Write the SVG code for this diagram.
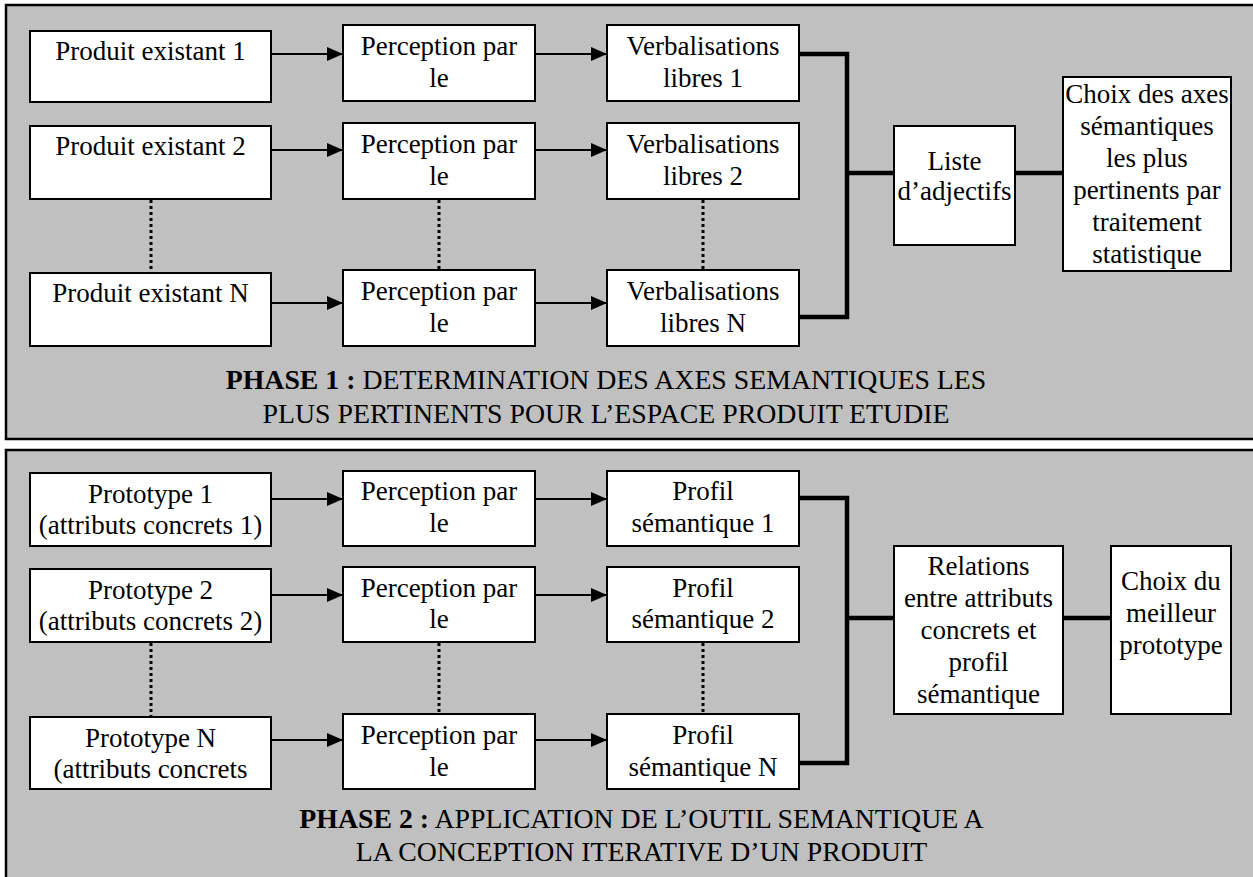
<svg xmlns="http://www.w3.org/2000/svg" width="1253" height="877" viewBox="0 0 1253 877">
  <style>
    .panel { fill: #c0c0c0; stroke: #000; stroke-width: 2.5; }
    .box { fill: #fff; stroke: #000; stroke-width: 2; }
    .t { font-family: "Liberation Serif", "Times New Roman", serif; font-size: 27px; fill: #000; text-anchor: middle; }
    .ph { font-family: "Liberation Serif", "Times New Roman", serif; font-size: 27.8px; fill: #000; text-anchor: middle; }
    .b { font-weight: bold; }
    .arrow { stroke: #000; stroke-width: 2; fill: none; marker-end: url(#head); }
    .join { stroke: #000; stroke-width: 4.5; fill: none; stroke-linejoin: miter; }
    .dots { stroke: #000; stroke-width: 3; stroke-dasharray: 3 3; fill: none; }
  </style>
  <defs>
    <marker id="head" markerWidth="16" markerHeight="14" refX="16" refY="7" orient="auto" markerUnits="userSpaceOnUse">
      <path d="M0,0 L16,7 L0,14 z" fill="#000"/>
    </marker>
  </defs>

  <rect width="1253" height="877" fill="#fff"/>

  <!-- Phase 1 panel -->
  <g id="phase1">
    <rect class="panel" x="6" y="5" width="1260" height="434"/>
    <text class="ph" x="606" y="389"><tspan class="b">PHASE 1 :</tspan> DETERMINATION DES AXES SEMANTIQUES LES</text>
    <text class="ph" x="606" y="423">PLUS PERTINENTS POUR L’ESPACE PRODUIT ETUDIE</text>
  </g>

  <!-- Phase 2 panel -->
  <g id="phase2">
    <rect class="panel" x="6" y="450" width="1260" height="440"/>
    <text class="ph" x="641.5" y="828"><tspan class="b">PHASE 2 :</tspan> APPLICATION DE L’OUTIL SEMANTIQUE A</text>
    <text class="ph" x="641.5" y="861">LA CONCEPTION ITERATIVE D’UN PRODUIT</text>
  </g>

  <!-- Connectors -->
  <g id="connectors">
    <!-- phase 1 arrows -->
    <line class="arrow" x1="271" y1="54" x2="343" y2="54"/>
    <line class="arrow" x1="535" y1="54" x2="607" y2="54"/>
    <line class="arrow" x1="271" y1="150" x2="343" y2="150"/>
    <line class="arrow" x1="535" y1="150" x2="607" y2="150"/>
    <line class="arrow" x1="271" y1="303" x2="343" y2="303"/>
    <line class="arrow" x1="535" y1="303" x2="607" y2="303"/>
    <!-- phase 1 dotted continuations -->
    <line class="dots" x1="151" y1="200" x2="151" y2="273"/>
    <line class="dots" x1="439" y1="200" x2="439" y2="270"/>
    <line class="dots" x1="703" y1="200" x2="703" y2="270"/>
    <!-- phase 1 bracket -->
    <polyline class="join" points="799,54 847,54 847,317 799,317"/>
    <line class="join" x1="847" y1="173" x2="894" y2="173"/>
    <line class="join" x1="1015" y1="173" x2="1063" y2="173"/>

    <!-- phase 2 arrows -->
    <line class="arrow" x1="271" y1="499" x2="343" y2="499"/>
    <line class="arrow" x1="535" y1="499" x2="607" y2="499"/>
    <line class="arrow" x1="271" y1="595" x2="343" y2="595"/>
    <line class="arrow" x1="535" y1="595" x2="607" y2="595"/>
    <line class="arrow" x1="271" y1="740" x2="343" y2="740"/>
    <line class="arrow" x1="535" y1="740" x2="607" y2="740"/>
    <!-- phase 2 dotted continuations -->
    <line class="dots" x1="151" y1="643" x2="151" y2="717"/>
    <line class="dots" x1="439" y1="643" x2="439" y2="714"/>
    <line class="dots" x1="703" y1="643" x2="703" y2="714"/>
    <!-- phase 2 bracket -->
    <polyline class="join" points="799,498 847,498 847,763 799,763"/>
    <line class="join" x1="847" y1="618" x2="894" y2="618"/>
    <line class="join" x1="1063" y1="618" x2="1111" y2="618"/>
  </g>

  <!-- Phase 1 nodes -->
  <g id="produit1">
    <rect class="box" x="30" y="31" width="241" height="71"/>
    <text class="t" x="150.5" y="60">Produit existant 1</text>
  </g>
  <g id="perception1a">
    <rect class="box" x="343" y="25" width="192" height="76"/>
    <text class="t" x="439" y="55">Perception par</text>
    <text class="t" x="439" y="87">le</text>
  </g>
  <g id="verbal1">
    <rect class="box" x="607" y="25" width="192" height="76"/>
    <text class="t" x="703" y="55">Verbalisations</text>
    <text class="t" x="703" y="87">libres 1</text>
  </g>

  <g id="produit2">
    <rect class="box" x="30" y="126" width="241" height="73"/>
    <text class="t" x="150.5" y="155">Produit existant 2</text>
  </g>
  <g id="perception1b">
    <rect class="box" x="343" y="123" width="192" height="76"/>
    <text class="t" x="439" y="153">Perception par</text>
    <text class="t" x="439" y="185">le</text>
  </g>
  <g id="verbal2">
    <rect class="box" x="607" y="123" width="192" height="76"/>
    <text class="t" x="703" y="153">Verbalisations</text>
    <text class="t" x="703" y="185">libres 2</text>
  </g>

  <g id="produitN">
    <rect class="box" x="30" y="273" width="241" height="73"/>
    <text class="t" x="150.5" y="302">Produit existant N</text>
  </g>
  <g id="perception1n">
    <rect class="box" x="343" y="270" width="192" height="76"/>
    <text class="t" x="439" y="300">Perception par</text>
    <text class="t" x="439" y="332">le</text>
  </g>
  <g id="verbalN">
    <rect class="box" x="607" y="270" width="192" height="76"/>
    <text class="t" x="703" y="300">Verbalisations</text>
    <text class="t" x="703" y="332">libres N</text>
  </g>

  <g id="liste">
    <rect class="box" x="894" y="126" width="121" height="119"/>
    <text class="t" x="954.5" y="170">Liste</text>
    <text class="t" x="954.5" y="200">d’adjectifs</text>
  </g>
  <g id="choix-axes">
    <rect class="box" x="1063" y="77" width="168" height="194"/>
    <text class="t" x="1147" y="103">Choix des axes</text>
    <text class="t" x="1147" y="135">sémantiques</text>
    <text class="t" x="1147" y="167">les plus</text>
    <text class="t" x="1147" y="199">pertinents par</text>
    <text class="t" x="1147" y="231">traitement</text>
    <text class="t" x="1147" y="263">statistique</text>
  </g>

  <!-- Phase 2 nodes -->
  <g id="prototype1">
    <rect class="box" x="30" y="473" width="241" height="73"/>
    <text class="t" x="150.5" y="503">Prototype 1</text>
    <text class="t" x="150.5" y="534">(attributs concrets 1)</text>
  </g>
  <g id="perception2a">
    <rect class="box" x="343" y="471" width="192" height="75"/>
    <text class="t" x="439" y="500">Perception par</text>
    <text class="t" x="439" y="532">le</text>
  </g>
  <g id="profil1">
    <rect class="box" x="607" y="471" width="192" height="75"/>
    <text class="t" x="703" y="500">Profil</text>
    <text class="t" x="703" y="532">sémantique 1</text>
  </g>

  <g id="prototype2">
    <rect class="box" x="30" y="569" width="241" height="73"/>
    <text class="t" x="150.5" y="599">Prototype 2</text>
    <text class="t" x="150.5" y="630">(attributs concrets 2)</text>
  </g>
  <g id="perception2b">
    <rect class="box" x="343" y="567" width="192" height="75"/>
    <text class="t" x="439" y="597">Perception par</text>
    <text class="t" x="439" y="628">le</text>
  </g>
  <g id="profil2">
    <rect class="box" x="607" y="567" width="192" height="75"/>
    <text class="t" x="703" y="597">Profil</text>
    <text class="t" x="703" y="628">sémantique 2</text>
  </g>

  <g id="prototypeN">
    <rect class="box" x="30" y="717" width="241" height="72"/>
    <text class="t" x="150.5" y="747">Prototype N</text>
    <text class="t" x="150.5" y="778">(attributs concrets</text>
  </g>
  <g id="perception2n">
    <rect class="box" x="343" y="714" width="192" height="75"/>
    <text class="t" x="439" y="744">Perception par</text>
    <text class="t" x="439" y="776">le</text>
  </g>
  <g id="profilN">
    <rect class="box" x="607" y="714" width="192" height="75"/>
    <text class="t" x="703" y="744">Profil</text>
    <text class="t" x="703" y="776">sémantique N</text>
  </g>

  <g id="relations">
    <rect class="box" x="894" y="546" width="169" height="168"/>
    <text class="t" x="978.5" y="575">Relations</text>
    <text class="t" x="978.5" y="607">entre attributs</text>
    <text class="t" x="978.5" y="639">concrets et</text>
    <text class="t" x="978.5" y="671">profil</text>
    <text class="t" x="978.5" y="703">sémantique</text>
  </g>
  <g id="choix-prototype">
    <rect class="box" x="1111" y="546" width="120" height="168"/>
    <text class="t" x="1171" y="590">Choix du</text>
    <text class="t" x="1171" y="622">meilleur</text>
    <text class="t" x="1171" y="654">prototype</text>
  </g>
</svg>
